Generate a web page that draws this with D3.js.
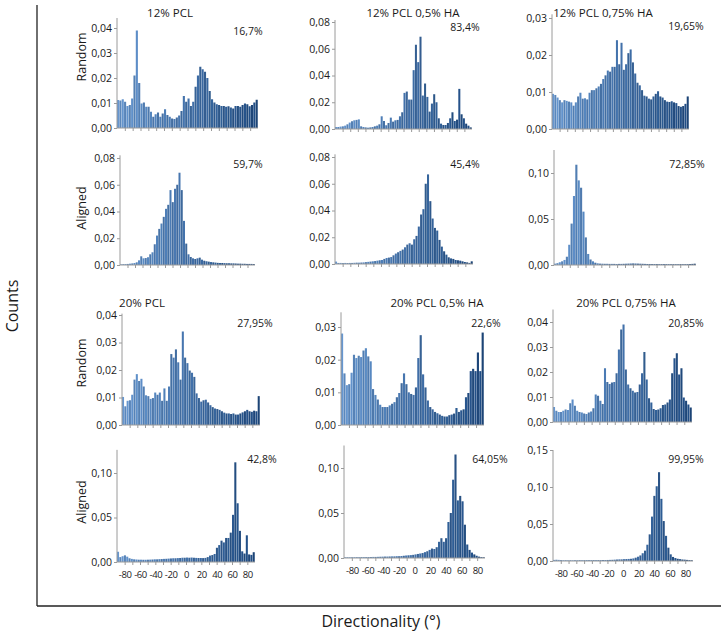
<!DOCTYPE html>
<html><head><meta charset="utf-8">
<script src="https://cdn.jsdelivr.net/npm/d3@7/dist/d3.min.js"></script>
<style>body{margin:0;background:#fff}svg text{font-family:"Open Sans",sans-serif;fill:#1a1a1a}</style>
</head><body><svg id="c" width="723" height="632"></svg>
<script>
// bins: 3 degrees each, from -90 to 90
const binStarts = d3.range(-90, 90, 3);
const xTickValues = d3.range(-80, 81, 10);
const xTickLabels = [-80,-60,-40,-20,0,20,40,60,80];
const rowLabels = ["Random","Aligned","Random","Aligned"];
const titles = ["12% PCL","12% PCL 0,5% HA","12% PCL 0,75% HA","20% PCL","20% PCL 0,5% HA","20% PCL 0,75% HA"];
const percents = ["16,7%","83,4%","19,65%","59,7%","45,4%","72,85%","27,95%","22,6%","20,85%","42,8%","64,05%","99,95%"];
const yTicks = [
  [0,0.01,0.02,0.03,0.04],[0,0.02,0.04,0.06,0.08],[0,0.01,0.02,0.03],
  [0,0.02,0.04,0.06,0.08],[0,0.02,0.04,0.06,0.08],[0,0.05,0.10],
  [0,0.01,0.02,0.03,0.04],[0,0.01,0.02,0.03],[0,0.01,0.02,0.03,0.04],
  [0,0.05,0.10],[0,0.05,0.10],[0,0.05,0.10,0.15]
];
const yTop = [0.044,0.0815,0.031,0.082,0.082,0.125,0.0405,0.0345,0.045,0.126,0.125,0.15];

const p1 = [0.0112,0.011,0.0115,0.0105,0.0088,0.0092,0.0118,0.021,0.039,0.018,
0.0098,0.0102,0.0085,0.0085,0.0065,0.0045,0.0055,0.0062,0.0045,0.0058,
0.0075,0.0052,0.0045,0.0038,0.0036,0.0042,0.005,0.0068,0.0128,0.0105,
0.0118,0.0088,0.0105,0.0165,0.021,0.0245,0.0235,0.0225,0.02,0.0148,
0.0115,0.0102,0.0095,0.0092,0.0088,0.0088,0.0085,0.0087,0.0082,0.0078,
0.0088,0.0088,0.0085,0.0092,0.0098,0.0095,0.0087,0.0092,0.0102,0.0113];
const p2 = [0.0015,0.0015,0.0018,0.002,0.0025,0.0035,0.0048,0.0058,0.0065,0.0068,
0.0072,0.002,0.0015,0.0012,0.001,0.0012,0.0015,0.002,0.0025,0.0035,
0.0095,0.006,0.0028,0.0045,0.0085,0.0055,0.0065,0.0068,0.0095,0.0125,
0.027,0.028,0.022,0.022,0.044,0.063,0.05,0.069,0.025,0.034,
0.024,0.013,0.019,0.026,0.02,0.008,0.004,0.003,0.003,0.0045,
0.008,0.0125,0.006,0.007,0.03,0.011,0.008,0.004,0.0025,0.0012];
const p3 = [0.0095,0.0092,0.0085,0.0078,0.0072,0.0078,0.0076,0.0074,0.0072,0.0063,
0.0072,0.0088,0.0098,0.0082,0.0083,0.008,0.0098,0.0105,0.0105,0.011,
0.0115,0.0122,0.0135,0.0145,0.0158,0.0155,0.0168,0.0168,0.024,0.0175,
0.0233,0.016,0.0175,0.0205,0.0215,0.018,0.015,0.0125,0.0118,0.0105,
0.009,0.0088,0.0082,0.008,0.0088,0.0095,0.0102,0.0088,0.0085,0.0078,
0.0074,0.0073,0.0075,0.0072,0.007,0.0062,0.006,0.0062,0.0068,0.0088];
const p4 = [0.0005,0.0006,0.0007,0.0008,0.001,0.0012,0.0015,0.002,0.0035,0.0065,
0.005,0.0052,0.0058,0.008,0.0095,0.0155,0.022,0.027,0.031,0.036,
0.042,0.045,0.056,0.047,0.057,0.06,0.069,0.056,0.033,0.016,
0.008,0.006,0.005,0.0045,0.005,0.0055,0.004,0.0032,0.0028,0.0025,
0.0022,0.002,0.0018,0.0016,0.0015,0.0015,0.0014,0.0013,0.0013,0.0012,
0.0012,0.0011,0.001,0.001,0.0009,0.0009,0.0008,0.0008,0.0008,0.0007];
const p5 = [0.0018,0.0008,0.0008,0.0007,0.0008,0.0007,0.0008,0.0008,0.0009,0.001,
0.001,0.0011,0.0012,0.0014,0.0016,0.0018,0.002,0.0022,0.0025,0.0028,
0.003,0.0038,0.0045,0.0048,0.0052,0.0065,0.0078,0.0088,0.0098,0.0108,
0.0125,0.0145,0.0155,0.0145,0.0185,0.021,0.028,0.037,0.041,0.06,
0.067,0.047,0.034,0.027,0.025,0.018,0.013,0.0095,0.007,0.005,
0.0042,0.0038,0.003,0.0028,0.0025,0.002,0.0015,0.0012,0.0008,0.002];
const p6 = [0.0015,0.002,0.003,0.004,0.0055,0.009,0.022,0.045,0.075,0.109,
0.092,0.084,0.058,0.03,0.012,0.006,0.004,0.0025,0.0018,0.0015,
0.0014,0.0013,0.0013,0.0012,0.0012,0.0012,0.0011,0.0012,0.0012,0.0013,
0.0014,0.0015,0.0016,0.0017,0.0016,0.0015,0.0014,0.0013,0.0012,0.0011,
0.0011,0.001,0.001,0.001,0.0009,0.0009,0.001,0.0009,0.0009,0.0008,
0.0009,0.0008,0.0008,0.0009,0.0008,0.0008,0.0009,0.001,0.0012,0.0014];
const p7 = [0.0102,0.0068,0.0088,0.009,0.011,0.0165,0.0185,0.016,0.0168,0.014,
0.0108,0.0105,0.0095,0.0098,0.0118,0.011,0.0118,0.0088,0.0133,0.0088,
0.014,0.0258,0.0245,0.0275,0.0228,0.0165,0.034,0.0245,0.0225,0.0198,
0.019,0.0175,0.0115,0.0098,0.0085,0.009,0.0092,0.0082,0.0072,0.0065,
0.006,0.0058,0.0055,0.005,0.0045,0.0042,0.0042,0.004,0.0042,0.0038,
0.0038,0.0042,0.0046,0.005,0.0055,0.005,0.0048,0.0052,0.005,0.0105];
const p8 = [0.028,0.0158,0.0122,0.0125,0.016,0.0215,0.0205,0.0212,0.0208,0.0228,
0.0235,0.021,0.0195,0.011,0.0092,0.0078,0.0062,0.0055,0.0055,0.0055,
0.006,0.0065,0.007,0.0085,0.0098,0.0128,0.0158,0.0125,0.01,0.0095,
0.0092,0.0115,0.0205,0.0275,0.0155,0.0115,0.0075,0.0055,0.0048,0.004,
0.0036,0.0032,0.0028,0.0026,0.0026,0.003,0.0032,0.0035,0.0052,0.004,
0.0045,0.0048,0.0085,0.0098,0.0165,0.0172,0.0165,0.0222,0.0165,0.0283];
const p9 = [0.006,0.0045,0.004,0.004,0.0045,0.005,0.0048,0.0075,0.009,0.0065,
0.0045,0.004,0.0038,0.0034,0.0032,0.0038,0.0042,0.0055,0.011,0.0105,
0.0085,0.0072,0.0215,0.016,0.0152,0.0158,0.016,0.0195,0.029,0.037,
0.039,0.021,0.015,0.0135,0.0125,0.0118,0.012,0.015,0.0195,0.028,
0.017,0.0095,0.0078,0.0052,0.0048,0.005,0.0055,0.0068,0.007,0.0078,
0.009,0.0195,0.0255,0.0275,0.019,0.0215,0.0098,0.0085,0.007,0.0058];
const p10 = [0.0115,0.0055,0.0065,0.0075,0.006,0.0042,0.0035,0.003,0.0028,0.0026,
0.0026,0.0025,0.0025,0.0026,0.0027,0.0028,0.003,0.003,0.0032,0.0033,
0.0035,0.0036,0.0038,0.004,0.0042,0.0042,0.0044,0.0045,0.0048,0.0048,
0.005,0.0048,0.005,0.0048,0.0046,0.0045,0.0045,0.0044,0.0046,0.0055,
0.0072,0.0078,0.009,0.016,0.019,0.024,0.022,0.027,0.027,0.033,
0.053,0.112,0.066,0.035,0.012,0.0095,0.03,0.0085,0.008,0.011];
const p11 = [0.0008,0.0008,0.0008,0.0008,0.0009,0.0009,0.0009,0.001,0.001,0.001,
0.0011,0.0011,0.0012,0.0012,0.0013,0.0014,0.0015,0.0016,0.0016,0.0017,
0.0018,0.0018,0.002,0.002,0.0022,0.0025,0.0028,0.003,0.0032,0.0035,
0.004,0.0045,0.005,0.0055,0.0065,0.0075,0.009,0.0105,0.01,0.012,
0.018,0.022,0.018,0.022,0.04,0.05,0.087,0.115,0.064,0.069,
0.063,0.037,0.015,0.009,0.006,0.004,0.0025,0.0015,0.001,0.0008];
const p12 = [0.0015,0.0017,0.0015,0.0012,0.001,0.001,0.0009,0.001,0.0009,0.001,
0.001,0.0011,0.001,0.0011,0.0012,0.0011,0.0012,0.0012,0.0011,0.0012,
0.0012,0.0013,0.0013,0.0014,0.0015,0.0016,0.0018,0.002,0.0022,0.0022,
0.0025,0.0026,0.0028,0.003,0.0035,0.0045,0.0058,0.0075,0.0105,0.014,
0.022,0.036,0.06,0.088,0.101,0.12,0.084,0.054,0.034,0.018,
0.009,0.0055,0.004,0.003,0.0025,0.002,0.0018,0.0015,0.0012,0.001];
const series = [p1,p2,p3,p4,p5,p6,p7,p8,p9,p10,p11,p12];

// layout (pixel geometry of each panel)
const layout = [
  {x0:117,x1:258,base:128,refY:28},
  {x0:335,x1:472,base:129,refY:22},
  {x0:552,x1:689,base:129,refY:18},
  {x0:120,x1:255,base:265,refY:158},
  {x0:335,x1:473,base:264,refY:157},
  {x0:554,x1:696,base:265,refY:173},
  {x0:122,x1:260,base:425,refY:315},
  {x0:341,x1:484,base:425,refY:327},
  {x0:553,x1:692,base:422,refY:322},
  {x0:117,x1:255,base:562,refY:473},
  {x0:344,x1:485,base:558,refY:468},
  {x0:553,x1:693,base:561,refY:450}
];
const titlePos = [[170,13],[413,13],[603,13],[142,303],[437,303],[626,303]];
const pctPos = [[248,31],[465,27],[686,26],[248,164],[465,164],[687,164],
                [255,323],[486,323],[686,323],[262,459],[490,459],[686,459]];
const rowLabelPos = [57,208,363,502];

const fmt = d3.formatLocale({decimal:",",thousands:".",grouping:[3],currency:["",""]}).format(".2f");
const svg = d3.select("#c");
const colorAt = d3.interpolateRgb("#6393cb","#1e4a80");

series.forEach((data, k) => {
  const L = layout[k];
  const g = svg.append("g");
  const x = d3.scaleLinear().domain([-90,90]).range([L.x0, L.x1]);
  const y = d3.scaleLinear().domain([0, yTicks[k][yTicks[k].length-1]]).range([L.base, L.refY]);
  g.selectAll("rect").data(data).join("rect")
    .attr("x", (d,i) => x(binStarts[i]))
    .attr("width", (d,i) => Math.max(0.5, x(binStarts[i]+3) - x(binStarts[i]) - 0.25))
    .attr("y", d => y(d))
    .attr("height", d => L.base - y(d))
    .attr("fill", (d,i) => { const c = d3.color(colorAt(i/59)); return (i%2 ? c.darker(0.22) : c.brighter(0.08)).formatHex(); });
  const ya = g.append("g").attr("transform", `translate(${L.x0},0)`)
    .call(d3.axisLeft(y).tickValues(yTicks[k]).tickFormat(fmt).tickSize(3).tickPadding(2));
  ya.select(".domain").attr("d", `M0,${L.base}V${y(yTop[k])}`).attr("stroke","#9a9a9a");
  ya.selectAll(".tick line").attr("stroke","#9a9a9a");
  ya.selectAll("text").attr("font-size","10.5px").attr("font-family","Open Sans").attr("fill","#1a1a1a");
  const bottomRow = k >= 9;
  const xa = g.append("g").attr("transform", `translate(0,${L.base})`)
    .call(d3.axisBottom(x).tickValues(xTickValues).tickSize(3).tickPadding(6)
      .tickFormat(v => bottomRow && xTickLabels.includes(v) ? String(v) : ""));
  xa.select(".domain").attr("d", `M${L.x0},0H${L.x1}`).attr("stroke","#9a9a9a");
  xa.selectAll(".tick line").attr("stroke","#9a9a9a");
  xa.selectAll("text").attr("font-size","9.5px").attr("letter-spacing","-0.4px")
    .attr("font-family","Open Sans").attr("fill","#1a1a1a");
  g.append("text").attr("x", pctPos[k][0]).attr("y", pctPos[k][1]).attr("dy","0.35em")
    .attr("text-anchor","middle").attr("font-size","10.5px").text(percents[k]);
});

titles.forEach((t, i) => {
  svg.append("text").attr("x", titlePos[i][0]).attr("y", titlePos[i][1]).attr("dy","0.35em")
    .attr("text-anchor","middle").attr("font-size","11.5px").text(t);
});
rowLabels.forEach((t, i) => {
  svg.append("text").attr("transform", `translate(82,${rowLabelPos[i]}) rotate(-90)`).attr("dy","0.35em")
    .attr("text-anchor","middle").attr("font-size","12.5px").text(t);
});

svg.append("line").attr("x1",37).attr("x2",37).attr("y1",5).attr("y2",606).attr("stroke","#222").attr("stroke-width",1.3);
svg.append("line").attr("x1",37).attr("x2",721).attr("y1",606).attr("y2",606).attr("stroke","#222").attr("stroke-width",1.3);
svg.append("text").attr("transform","translate(12,306) rotate(-90)").attr("dy","0.35em")
  .attr("text-anchor","middle").attr("font-size","16px").text("Counts");
svg.append("text").attr("x",381).attr("y",621).attr("dy","0.35em")
  .attr("text-anchor","middle").attr("font-size","16px").text("Directionality (°)");
</script></body></html>
